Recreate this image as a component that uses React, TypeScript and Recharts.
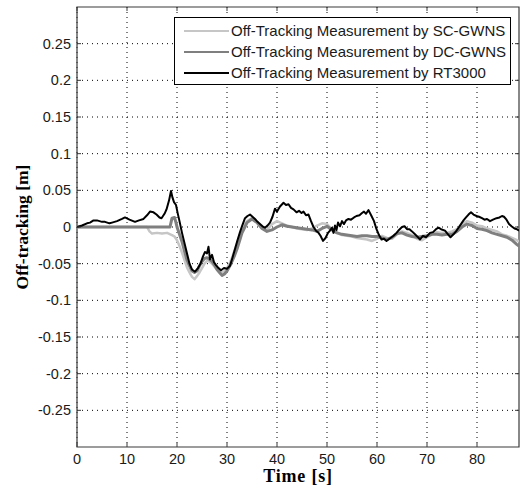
import React from 'react';
import { LineChart, Line, XAxis, YAxis, CartesianGrid, ReferenceArea } from 'recharts';

const seriesNames = [
  'Off-Tracking Measurement by SC-GWNS',
  'Off-Tracking Measurement by DC-GWNS',
  'Off-Tracking Measurement by RT3000',
];
const seriesColors = ['#c6c6c6', '#7f7f7f', '#000000'];

const xTicks = [0, 10, 20, 30, 40, 50, 60, 70, 80];
const yTicks = [-0.25, -0.2, -0.15, -0.1, -0.05, 0, 0.05, 0.1, 0.15, 0.2, 0.25];
const xDomain = [0, 88.4];
const yDomain = [-0.3, 0.3];

const scTime = [0, 5, 10, 14, 14.5, 15, 16, 17, 18, 19, 19.5, 20, 20.5, 21, 21.5, 22, 22.5, 23, 23.5, 24, 24.5, 25, 25.5, 26, 26.5, 27, 27.5, 28, 28.5, 29, 29.5, 30, 30.5, 31, 31.5, 32, 32.5, 33, 33.5, 34, 35, 36, 37, 38, 39, 40, 41, 42, 43, 44, 45, 46, 47, 48, 49, 50, 51, 52, 53, 54, 55, 56, 57, 58, 59, 60, 61, 62, 63, 64, 65, 66, 67, 68, 69, 70, 71, 72, 73, 74, 75, 76, 77, 78, 79, 80, 81, 82, 83, 84, 85, 86, 87, 88, 88.4];
const scValue = [0, 0, 0, 0, -0.006, -0.009, -0.008, -0.009, -0.008, -0.011, -0.013, -0.018, -0.026, -0.035, -0.045, -0.055, -0.062, -0.068, -0.071, -0.067, -0.062, -0.056, -0.050, -0.046, -0.047, -0.050, -0.054, -0.058, -0.060, -0.062, -0.060, -0.056, -0.050, -0.042, -0.032, -0.022, -0.012, -0.004, 0.003, 0.008, 0.012, 0.007, -0.001, -0.004, 0.004, 0.008, 0.005, 0.002, 0.000, -0.002, -0.003, -0.004, -0.002, 0.002, 0.005, 0.004, -0.003, -0.008, -0.011, -0.012, -0.013, -0.015, -0.016, -0.017, -0.019, -0.016, -0.012, -0.015, -0.016, -0.010, -0.006, -0.008, -0.011, -0.016, -0.018, -0.014, -0.010, -0.007, -0.008, -0.008, -0.006, -0.003, 0.004, 0.008, 0.006, 0.002, 0.001, -0.002, -0.004, -0.006, -0.010, -0.012, -0.015, -0.018, -0.020];

const dcTime = [0, 5, 10, 15, 18, 18.6, 19, 19.5, 19.8, 20, 20.5, 21, 21.5, 22, 22.5, 23, 23.5, 24, 24.5, 25, 25.5, 26, 26.5, 27, 27.5, 28, 28.5, 29, 29.5, 30, 30.5, 31, 31.5, 32, 32.5, 33, 33.5, 34, 35, 36, 37, 38, 39, 40, 41, 42, 43, 44, 45, 46, 47, 48, 49, 50, 51, 52, 53, 54, 55, 56, 57, 58, 59, 60, 61, 62, 63, 64, 65, 66, 67, 68, 69, 70, 71, 72, 73, 74, 75, 76, 77, 78, 79, 80, 81, 82, 83, 84, 85, 86, 87, 88, 88.4];
const dcValue = [0, 0, 0, 0, 0, 0, 0.012, 0.013, 0.006, 0.000, -0.010, -0.020, -0.033, -0.045, -0.053, -0.060, -0.062, -0.060, -0.053, -0.047, -0.043, -0.042, -0.044, -0.047, -0.052, -0.058, -0.062, -0.066, -0.064, -0.060, -0.054, -0.047, -0.039, -0.030, -0.019, -0.008, -0.001, 0.006, 0.011, 0.006, -0.002, -0.006, -0.004, 0.000, 0.003, 0.001, 0.000, -0.001, -0.002, -0.003, -0.004, -0.006, -0.002, 0.001, -0.004, -0.008, -0.010, -0.011, -0.012, -0.013, -0.012, -0.012, -0.013, -0.013, -0.015, -0.017, -0.014, -0.009, -0.008, -0.011, -0.013, -0.014, -0.013, -0.012, -0.010, -0.010, -0.011, -0.010, -0.010, -0.006, 0.000, 0.004, 0.002, -0.002, -0.003, -0.005, -0.008, -0.010, -0.012, -0.014, -0.018, -0.024, -0.026];

const rtTime = [0, 1, 2, 2.6, 3.3, 4, 5, 5.6, 6.5, 7, 8, 9, 9.6, 10.5, 11.6, 12.4, 13.3, 14, 14.6, 15.3, 15.9, 16.5, 16.9, 17.5, 17.9, 18.4, 18.8, 19.1, 19.4, 19.8, 20.1, 20.5, 21, 21.5, 22, 22.5, 23, 23.6, 24.2, 24.7, 25.2, 25.6, 26, 26.3, 26.6, 27, 27.4, 27.8, 28.3, 28.8, 29.4, 30, 30.6, 31, 31.6, 32.1, 32.6, 33.1, 33.6, 34.1, 34.6, 35.1, 35.6, 36.1, 36.6, 37.1, 37.6, 38.1, 38.6, 39.1, 39.6, 40, 40.6, 41.3, 41.8, 42.3, 42.8, 43.3, 43.9, 44.4, 44.9, 45.3, 45.8, 46.3, 46.8, 47.3, 47.8, 48.3, 48.7, 49.2, 49.7, 50.2, 50.6, 51, 51.3, 51.6, 51.9, 52.2, 52.6, 53, 53.4, 53.8, 54.3, 54.8, 55.4, 55.9, 56.5, 57, 57.4, 57.8, 58.3, 58.9, 59.4, 59.9, 60.4, 60.9, 61.4, 61.9, 62.5, 63.3, 63.9, 64.4, 65, 65.5, 66, 66.5, 67, 67.6, 68.2, 68.6, 69.2, 69.8, 70.6, 71.2, 71.8, 72.3, 72.8, 73.6, 74.2, 74.7, 75.3, 75.8, 76.3, 76.8, 77.3, 77.8, 78.3, 78.8, 79.3, 79.9, 80.4, 81, 81.5, 82, 82.6, 83.2, 83.9, 84.5, 85, 85.4, 85.9, 86.4, 86.9, 87.5, 88, 88.4];
const rtValue = [0.000, 0.002, 0.005, 0.006, 0.009, 0.009, 0.007, 0.007, 0.005, 0.006, 0.008, 0.011, 0.013, 0.010, 0.007, 0.009, 0.011, 0.016, 0.021, 0.020, 0.017, 0.013, 0.012, 0.018, 0.024, 0.036, 0.049, 0.040, 0.034, 0.030, 0.020, 0.008, -0.008, -0.022, -0.036, -0.050, -0.058, -0.061, -0.056, -0.050, -0.040, -0.034, -0.036, -0.027, -0.044, -0.038, -0.048, -0.052, -0.056, -0.059, -0.056, -0.057, -0.053, -0.044, -0.030, -0.018, -0.007, 0.003, 0.012, 0.015, 0.017, 0.014, 0.011, 0.007, 0.004, 0.001, -0.001, 0.002, 0.006, 0.014, 0.025, 0.021, 0.028, 0.033, 0.030, 0.031, 0.026, 0.024, 0.020, 0.022, 0.019, 0.021, 0.016, 0.017, 0.008, 0.000, -0.005, -0.008, -0.012, -0.019, -0.015, -0.008, -0.005, -0.001, -0.008, 0.002, -0.004, 0.006, 0.001, 0.008, 0.004, 0.009, 0.011, 0.010, 0.013, 0.015, 0.016, 0.019, 0.021, 0.018, 0.023, 0.015, 0.008, -0.003, -0.011, -0.017, -0.016, -0.019, -0.016, -0.012, -0.008, -0.004, 0.000, 0.001, -0.003, -0.003, -0.006, -0.010, -0.014, -0.017, -0.012, -0.014, -0.008, -0.007, -0.003, -0.001, -0.003, -0.005, -0.010, -0.014, -0.010, -0.006, -0.001, 0.004, 0.009, 0.013, 0.017, 0.020, 0.017, 0.015, 0.014, 0.012, 0.010, 0.011, 0.008, 0.010, 0.012, 0.013, 0.015, 0.014, 0.010, 0.004, 0.001, -0.002, -0.003, -0.005];

const toData = (t: number[], v: number[]) => t.map((x, i) => ({ t: x, v: v[i] }));
const scData = toData(scTime, scValue);
const dcData = toData(dcTime, dcValue);
const rtData = toData(rtTime, rtValue);
const seriesData = [scData, dcData, rtData];
const seriesWidths = [2.5, 3, 2];

const W = 523;
const H = 491;
const M = { top: 7, right: 4, left: 0, bottom: 0 };
const YW = 77;
const XH = 44;
const PL = M.left + YW;
const PR = W - M.right;
const PT = M.top;
const PB = H - M.bottom - XH;
const TICKLEN = 4;
const textColor = '#1a1a1a';
const frameColor = '#3a3a3a';
const tickFont = '"Liberation Sans", Arial, sans-serif';

const fmt = (v: number) => String(Number(v.toFixed(2)));

const YTick = (props: any) => {
  const { x, y, payload } = props;
  return (
    <g>
      <line x1={PL} x2={PL + TICKLEN} y1={y} y2={y} stroke={frameColor} strokeWidth={1} />
      <line x1={PR - TICKLEN} x2={PR} y1={y} y2={y} stroke={frameColor} strokeWidth={1} />
      <text x={x} y={y + 5} textAnchor="end" fontSize={14.5} fontFamily={tickFont} fill={textColor}>
        {fmt(payload.value)}
      </text>
    </g>
  );
};

const XTick = (props: any) => {
  const { x, y, payload } = props;
  return (
    <g>
      <line x1={x} x2={x} y1={PB} y2={PB - TICKLEN} stroke={frameColor} strokeWidth={1} />
      <line x1={x} x2={x} y1={PT} y2={PT + TICKLEN} stroke={frameColor} strokeWidth={1} />
      <text x={x} y={y + 17} textAnchor="middle" fontSize={14.5} fontFamily={tickFont} fill={textColor}>
        {fmt(payload.value)}
      </text>
    </g>
  );
};

const labelFont = '"Liberation Serif", "Times New Roman", serif';

export default function App() {
  return (
    <div style={{ position: 'absolute', left: 0, top: 0, width: W, height: H, background: '#fff' }}>
      <LineChart width={W} height={H} margin={M}>
        <CartesianGrid stroke="#000" strokeWidth={1} strokeDasharray="1 4" horizontalValues={yTicks} verticalValues={xTicks} />
        <XAxis
          type="number"
          dataKey="t"
          domain={xDomain}
          ticks={xTicks}
          height={XH}
          tickSize={0}
          tickMargin={0}
          axisLine={false}
          tick={<XTick />}
          allowDataOverflow
          label={(p: any) => (
            <text x={PL + (PR - PL) / 2} y={PB + 35} textAnchor="middle" fontSize={18} letterSpacing={0.8} fontWeight="bold" fontFamily={labelFont} fill="#000">
              Time [s]
            </text>
          )}
        />
        <YAxis
          type="number"
          domain={yDomain}
          ticks={yTicks}
          width={YW}
          tickSize={0}
          tickMargin={6}
          axisLine={false}
          tick={<YTick />}
          allowDataOverflow
          label={(p: any) => (
            <text
              x={22}
              y={PT + (PB - PT) / 2}
              transform={`rotate(-90 22 ${PT + (PB - PT) / 2})`}
              textAnchor="middle"
              dominantBaseline="central"
              fontSize={17.5}
              fontWeight="bold"
              fontFamily={labelFont}
              fill="#000"
            >
              Off-tracking [m]
            </text>
          )}
        />
        {seriesData.map((d, i) => (
          <Line
            key={seriesNames[i]}
            data={d}
            dataKey="v"
            name={seriesNames[i]}
            stroke={seriesColors[i]}
            strokeWidth={seriesWidths[i]}
            dot={false}
            activeDot={false}
            isAnimationActive={false}
            strokeLinejoin="round"
          />
        ))}
        <ReferenceArea x1={xDomain[0]} x2={xDomain[1]} y1={yDomain[0]} y2={yDomain[1]} fill="none" stroke={frameColor} strokeWidth={1.2} ifOverflow="visible" />
      </LineChart>
      <div
        style={{
          position: 'absolute',
          left: 174,
          top: 17,
          width: 337,
          height: 68,
          boxSizing: 'border-box',
          border: '1px solid #000',
          background: '#fff',
          fontFamily: tickFont,
          fontSize: 15,
          color: textColor,
        }}
      >
        {seriesNames.map((n, i) => (
          <div key={n} style={{ position: 'absolute', left: 0, top: 2 + i * 21, height: 21, display: 'flex', alignItems: 'center', whiteSpace: 'nowrap' }}>
            <div style={{ marginLeft: 9, width: 45, height: 0, borderTop: `2px solid ${seriesColors[i]}` }} />
            <span style={{ marginLeft: 2 }}>{n}</span>
          </div>
        ))}
      </div>
    </div>
  );
}
